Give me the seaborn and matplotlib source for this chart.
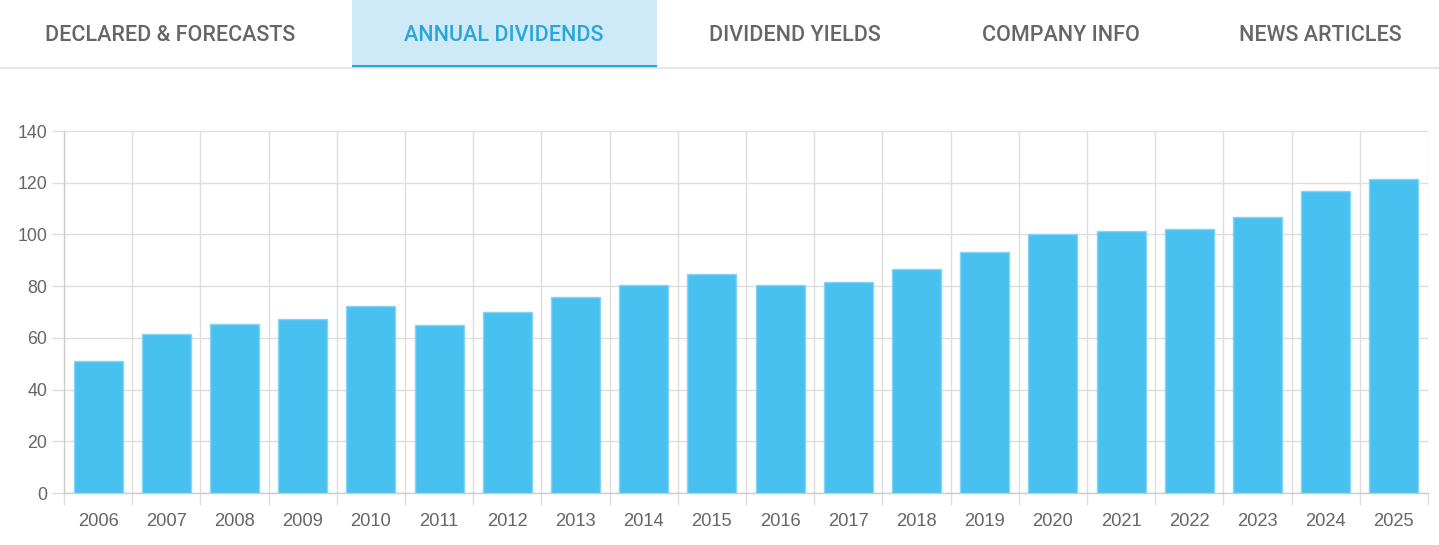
import matplotlib
matplotlib.use("Agg")
import matplotlib.pyplot as plt
import seaborn as sns
import numpy as np
import pandas as pd
from matplotlib.patches import Rectangle

# ---- data ----
years = ["2006", "2007", "2008", "2009", "2010", "2011", "2012", "2013", "2014", "2015",
         "2016", "2017", "2018", "2019", "2020", "2021", "2022", "2023", "2024", "2025"]
dividends = [51.0, 61.4, 65.5, 67.3, 72.3, 65.0, 70.0, 75.8, 80.3, 84.8,
             80.6, 81.5, 86.5, 93.2, 100.0, 101.4, 102.1, 106.7, 116.8, 121.6]
tabs = ["DECLARED & FORECASTS", "ANNUAL DIVIDENDS", "DIVIDEND YIELDS", "COMPANY INFO", "NEWS ARTICLES"]
active_tab = "ANNUAL DIVIDENDS"
y_ticks = [0, 20, 40, 60, 80, 100, 120, 140]

df = pd.DataFrame({"year": years, "dividend": dividends})

sns.set_theme(style="white")
plt.rcParams["font.family"] = ["Liberation Sans", "DejaVu Sans"]

W, H = 1439, 545
fig = plt.figure(figsize=(W / 100, H / 100), dpi=100)
fig.patch.set_facecolor("white")

# ---- header / tabs overlay ----
bg = fig.add_axes([0, 0, 1, 1], zorder=0)
bg.set_xlim(0, W)
bg.set_ylim(H, 0)
bg.axis("off")

tab_centers = [170, 504, 794.5, 1061, 1320]
bg.plot([0, W], [67.5, 67.5], color="#e3e3e3", lw=1.2, solid_capstyle="butt")
bg.add_patch(Rectangle((352, 0), 305, 66, facecolor="#cdeaf6", edgecolor="none"))
bg.add_patch(Rectangle((352, 65), 305, 3.2, facecolor="#2ba6db", edgecolor="none"))
for name, cx in zip(tabs, tab_centers):
    col = "#2ba6db" if name == active_tab else "#666666"
    bg.text(cx, 33, name, ha="center", va="center_baseline", fontsize=15.5,
            family=["Roboto", "DejaVu Sans"], fontweight="medium", color=col)

# ---- chart ----
ax = fig.add_axes([64 / W, 52 / H, 1364 / W, 362 / H], zorder=1)
ax.patch.set_alpha(0)
sns.barplot(data=df, x="year", y="dividend", color="#48c1f0", saturation=1,
            width=0.72, edgecolor="#86d4f4", linewidth=1, ax=ax, zorder=3)

grid_c = "#dedede"
axis_c = "#cccccc"
ax.set_xlim(-0.5, len(years) - 0.5)
ax.set_ylim(0, 140)
ax.set_yticks(y_ticks)
ax.set_xticks(range(len(years)))
ax.set_xticklabels(years)
ax.set_xticks(np.arange(-0.5, len(years), 1.0), minor=True)
ax.set_xlabel("")
ax.set_ylabel("")

ax.grid(False)
ax.yaxis.grid(True, color=grid_c, lw=1, zorder=0)
ax.xaxis.grid(True, which="minor", color=grid_c, lw=1, zorder=0)
ax.set_axisbelow(True)

for s in ["top", "right"]:
    ax.spines[s].set_visible(False)
for s in ["left", "bottom"]:
    ax.spines[s].set_color(axis_c)
    ax.spines[s].set_linewidth(1)

ax.tick_params(axis="y", which="major", length=8.6, width=1, color=grid_c,
               labelsize=12.8, labelcolor="#666666", pad=3.6, left=True)
ax.tick_params(axis="x", which="major", length=0, labelsize=13.2,
               labelcolor="#666666", pad=14.5)
ax.tick_params(axis="x", which="minor", length=8.6, width=1, color=grid_c, bottom=True)

fig.savefig("out.png", dpi=100, facecolor="white")
